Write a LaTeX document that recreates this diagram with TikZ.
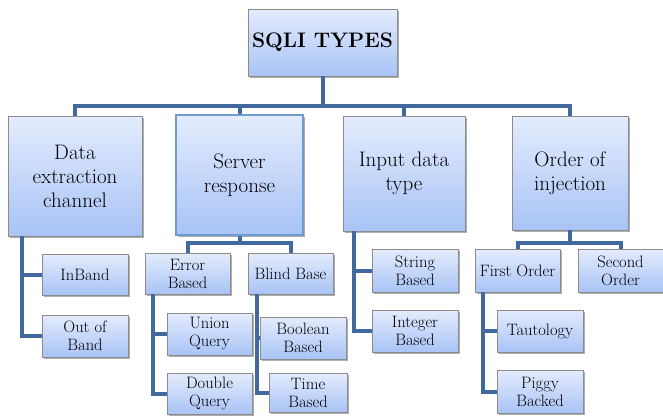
\documentclass[tikz,border=0pt]{standalone}
\usepackage{fontspec}
\setmainfont{Latin Modern Roman}
\usetikzlibrary{shadows}

\definecolor{linkblue}{HTML}{41699F}
\definecolor{boxtop}{HTML}{E4ECFD}
\definecolor{boxbottom}{HTML}{A8C3F6}
\definecolor{boxedge}{HTML}{8C8C8C}
\definecolor{selblue}{HTML}{6F9BD0}

\tikzset{
  sqlbox/.style={draw=boxedge, line width=0.8pt, top color=boxtop, bottom color=boxbottom,
    inner sep=0pt, align=center,
    drop shadow={shadow xshift=1.5pt, shadow yshift=-1.5pt, opacity=0.45, fill=black!70}},
  rootbox/.style={sqlbox, minimum width=149pt, minimum height=67pt,
    font=\bfseries\fontsize{21}{24}\selectfont},
  catbox/.style={sqlbox, font=\fontsize{21}{24}\selectfont},
  leafbox/.style={sqlbox, minimum width=86pt, minimum height=42pt,
    font=\fontsize{16.5}{18}\selectfont},
  link/.style={draw=linkblue, line width=4pt},
}

\begin{document}
\begin{tikzpicture}[x=1pt, y=-1pt]
    \useasboundingbox (0,0) rectangle (663,416);

    % Root
    \node[rootbox] (root) at (322.5,42.5) {SQLI TYPES};

    % Categories
    \node[catbox, minimum width=134pt, minimum height=120pt] (data) at (75,176) {Data\\extraction\\channel};
    \node[catbox, minimum width=127pt, minimum height=120pt, draw=selblue, line width=2pt] (server) at (239.5,175) {Server\\response};
    \node[catbox, minimum width=122pt, minimum height=115pt] (input) at (404,173.5) {Input data\\type};
    \node[catbox, minimum width=116pt, minimum height=114pt] (order) at (570,173) {Order of\\injection};

    % Data extraction channel
    \node[leafbox, minimum height=41pt] (inband) at (85,274.5) {InBand};
    \node[leafbox] (outband) at (85,336) {Out of\\Band};

    % Server response
    \node[leafbox, minimum width=85pt, minimum height=41pt] (errb) at (187.5,273.5) {Error\\Based};
    \node[leafbox, minimum width=85pt, minimum height=41pt] (blind) at (290.5,273.5) {Blind Base};
    \node[leafbox, minimum width=85pt] (union) at (209.5,334) {Union\\Query};
    \node[leafbox, minimum width=85pt, minimum height=41pt] (double) at (209.5,393.5) {Double\\Query};
    \node[leafbox] (boolean) at (303,338) {Boolean\\Based};
    \node[leafbox, minimum width=78pt, minimum height=39pt] (time) at (308,392.5) {Time\\Based};

    % Input data type
    \node[leafbox, minimum height=43pt] (string) at (415,270.5) {String\\Based};
    \node[leafbox] (integer) at (415,331) {Integer\\Based};

    % Order of injection
    \node[leafbox, minimum width=85pt, minimum height=43pt] (first) at (517.5,270.5) {First Order};
    \node[leafbox, minimum width=85pt, minimum height=43pt] (second) at (620.5,270.5) {Second\\Order};
    \node[leafbox] (tauto) at (540,331) {Tautology};
    \node[leafbox, minimum height=43pt] (piggy) at (540,391.5) {Piggy\\Backed};

    % Connectors
    \coordinate (j0) at (322.5,106);
    \draw[link] (root.south) -- (j0);
    \draw[link] (data.north) |- (j0) -| (order.north);
    \draw[link] (j0) -| (server.north);
    \draw[link] (j0) -| (input.north);

    \draw[link] ([xshift=14pt]data.south west) |- (outband.west);
    \draw[link] ([xshift=14pt]data.south west) |- (inband.west);

    \coordinate (j1) at (239.5,243);
    \draw[link] (server.south) -- (j1);
    \draw[link] (errb.north) |- (j1) -| (blind.north);
    \draw[link] ([xshift=8pt]errb.south west) |- (double.west);
    \draw[link] ([xshift=8pt]errb.south west) |- (union.west);
    \draw[link] ([xshift=9pt]blind.south west) |- (time.west);
    \draw[link] ([xshift=9pt]blind.south west) |- (boolean.west);

    \draw[link] ([xshift=11pt]input.south west) |- (integer.west);
    \draw[link] ([xshift=11pt]input.south west) |- (string.west);

    \coordinate (j2) at (570,243);
    \draw[link] (order.south) -- (j2);
    \draw[link] (first.north) |- (j2) -| (second.north);
    \draw[link] ([xshift=8pt]first.south west) |- (piggy.west);
    \draw[link] ([xshift=8pt]first.south west) |- (tauto.west);
\end{tikzpicture}
\end{document}
